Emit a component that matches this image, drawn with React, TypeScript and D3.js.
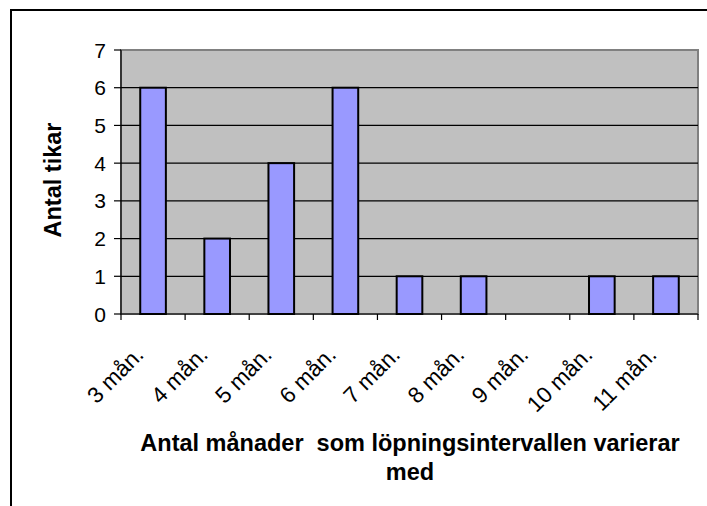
import React from "react";
import * as d3 from "d3";

const categories = ["3 mån.", "4 mån.", "5 mån.", "6 mån.", "7 mån.", "8 mån.", "9 mån.", "10 mån.", "11 mån."];
const values = [6, 2, 4, 6, 1, 1, 0, 1, 1];
const yTicks = [0, 1, 2, 3, 4, 5, 6, 7];
const xTitle = ["Antal månader  som löpningsintervallen varierar", "med"];
const yTitle = "Antal tikar";

const W = 707;
const H = 506;
const plot = { left: 121, right: 698, top: 50, bottom: 314 };
const font = "'Liberation Sans', Arial, sans-serif";

export default function App() {
  const x = d3.scaleBand().domain(categories).range([plot.left, plot.right]);
  const y = d3.scaleLinear().domain([0, 7]).range([plot.bottom, plot.top]);
  const barW = x.bandwidth() / 2.5;

  return (
    <svg width={W} height={H} style={{ position: "absolute", left: 0, top: 0, background: "#fff" }}>
      {/* outer frame */}
      <path d={`M11,${H + 5} V10 H${W + 5}`} fill="none" stroke="#000" strokeWidth={2} />

      {/* plot area */}
      <rect x={plot.left} y={plot.top} width={plot.right - plot.left} height={plot.bottom - plot.top}
        fill="#c0c0c0" stroke="#808080" strokeWidth={2} />

      {/* gridlines */}
      {yTicks.filter(t => t > 0 && t < 7).map(t => (
        <line key={t} x1={plot.left} x2={plot.right} y1={y(t)} y2={y(t)} stroke="#000" strokeWidth={1.2} />
      ))}

      {/* bars */}
      {categories.map((c, i) => values[i] > 0 && (
        <rect key={c} x={x(c)! + (x.bandwidth() - barW) / 2} y={y(values[i])}
          width={barW} height={y(0) - y(values[i])}
          fill="#9999ff" stroke="#000" strokeWidth={2} />
      ))}

      {/* y axis */}
      <line x1={plot.left} x2={plot.left} y1={plot.top} y2={plot.bottom} stroke="#000" strokeWidth={1.2} />
      {yTicks.map(t => (
        <g key={t}>
          <line x1={plot.left - 7} x2={plot.left} y1={y(t)} y2={y(t)} stroke="#000" strokeWidth={1.2} />
          <text x={106} y={y(t)} dy="0.36em" textAnchor="end" fontFamily={font} fontSize={21}>{t}</text>
        </g>
      ))}

      {/* x axis */}
      <line x1={plot.left} x2={plot.right} y1={plot.bottom} y2={plot.bottom} stroke="#000" strokeWidth={1.2} />
      {[...categories.map(c => x(c)!), plot.right].map((px, i) => (
        <line key={i} x1={px} x2={px} y1={plot.bottom} y2={plot.bottom + 6} stroke="#000" strokeWidth={1.2} />
      ))}
      {categories.map(c => {
        const cx = x(c)! + x.bandwidth() / 2 - 8;
        const cy = plot.bottom + 42;
        return (
          <text key={c} x={cx} y={cy} textAnchor="end" fontFamily={font} fontSize={22.5}
            transform={`rotate(-45 ${cx} ${cy})`}>{c}</text>
        );
      })}

      {/* axis titles */}
      {xTitle.map((s, i) => (
        <text key={i} x={410} y={451 + i * 29} textAnchor="middle" fontFamily={font}
          fontSize={23.5} fontWeight="bold" style={{ whiteSpace: "pre" }}>{s}</text>
      ))}
      <text transform={`translate(61,180) rotate(-90)`} textAnchor="middle" fontFamily={font}
        fontSize={23.5} fontWeight="bold">{yTitle}</text>
    </svg>
  );
}
